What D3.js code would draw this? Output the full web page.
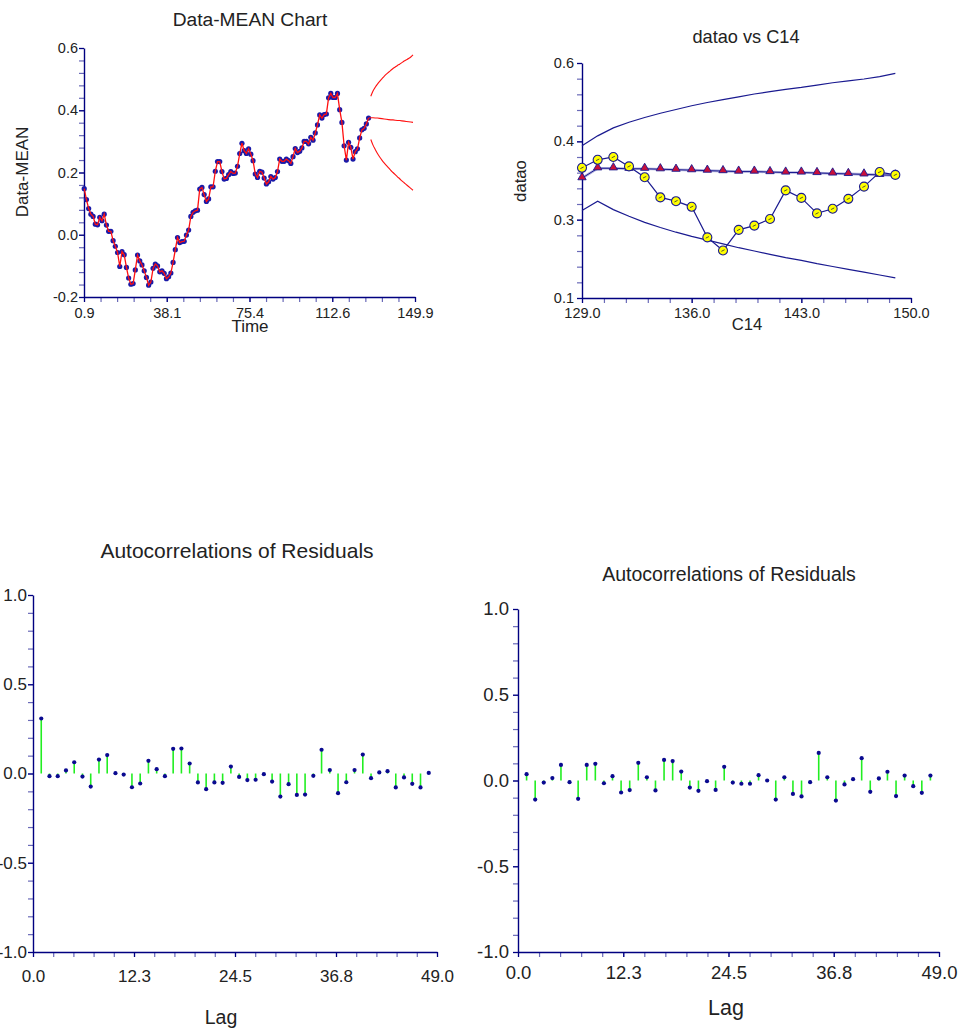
<!DOCTYPE html>
<html>
<head>
<meta charset="utf-8">
<script src="https://cdn.jsdelivr.net/npm/d3@7"></script>
<style>
  body { margin: 0; background: #fff; }
  text { font-family: "Liberation Sans", Arial, sans-serif; fill: #222; }
</style>
</head>
<body>
<svg id="chart" width="960" height="1032"></svg>
<script>
// ---- data ----
// Data-MEAN series, time 1..129
var dataMean = [0.148,0.113,0.084,0.066,0.059,0.034,0.032,0.056,0.045,0.066,
  0.031,0.011,0.011,-0.019,-0.037,-0.057,-0.102,-0.054,-0.064,-0.105,
  -0.139,-0.159,-0.157,-0.113,-0.065,-0.084,-0.097,-0.116,-0.137,-0.162,
  -0.152,-0.108,-0.094,-0.100,-0.119,-0.116,-0.124,-0.141,-0.135,-0.123,
  -0.089,-0.048,-0.009,-0.025,-0.022,-0.021,-0.001,0.015,0.059,0.072,
  0.077,0.079,0.147,0.152,0.129,0.107,0.115,0.154,0.154,0.204,
  0.235,0.235,0.203,0.179,0.181,0.193,0.203,0.197,0.198,0.220,
  0.261,0.294,0.270,0.261,0.276,0.259,0.238,0.195,0.184,0.204,
  0.201,0.182,0.163,0.170,0.187,0.179,0.184,0.203,0.243,0.236,
  0.236,0.243,0.238,0.229,0.251,0.277,0.264,0.268,0.279,0.300,
  0.300,0.292,0.313,0.304,0.327,0.353,0.385,0.375,0.386,0.388,
  0.440,0.454,0.441,0.441,0.454,0.402,0.361,0.286,0.240,0.297,
  0.281,0.243,0.267,0.276,0.311,0.337,0.342,0.356,0.375]

// datao vs C14 (129..149)
var c14 = [129,130,131,132,133,134,135,136,137,138,139,140,141,142,143,144,145,146,147,148,149]
var datao = [0.377,0.394,0.400,0.380,0.357,0.314,0.306,0.294,0.229,0.201,0.245,
  0.254,0.268,0.329,0.313,0.280,0.290,0.311,0.337,0.368,0.362]
var forecast = [0.355,0.376,0.376,0.375,0.375,0.374,0.373,0.372,0.371,0.370,0.369,
  0.369,0.368,0.367,0.367,0.366,0.365,0.364,0.363,0.362,0.361]
var upper = [0.424,0.445,0.462,0.474,0.484,0.493,0.501,0.509,0.516,0.522,0.528,
  0.534,0.539,0.544,0.548,0.553,0.558,0.562,0.566,0.571,0.578]
var lower = [0.286,0.306,0.288,0.274,0.261,0.250,0.240,0.231,0.223,0.215,0.207,
  0.200,0.193,0.186,0.180,0.173,0.167,0.161,0.155,0.149,0.143]

// autocorrelations, lags 1..48
var acfLeft = [0.308,-0.015,-0.015,0.017,0.063,-0.017,-0.073,0.078,0.103,0.002,
  -0.006,-0.077,-0.056,0.071,0.024,-0.015,0.138,0.140,0.056,-0.050,
  -0.088,-0.050,-0.052,0.039,-0.019,-0.037,-0.035,-0.004,-0.045,-0.129,
  -0.060,-0.120,-0.118,-0.013,0.133,0.019,-0.110,-0.049,0.019,0.106,
  -0.026,0.006,0.013,-0.078,-0.022,-0.058,-0.078,0.003]
var acfRight = [0.037,-0.111,-0.012,0.014,0.091,-0.010,-0.107,0.091,0.097,-0.016,
  0.025,-0.070,-0.056,0.103,0.019,-0.058,0.120,0.113,0.052,-0.041,
  -0.060,-0.004,-0.055,0.080,-0.012,-0.019,-0.019,0.031,0.000,-0.111,
  0.019,-0.078,-0.093,-0.010,0.161,0.019,-0.117,-0.023,0.008,0.130,
  -0.066,0.012,0.051,-0.091,0.029,-0.033,-0.072,0.029]

// tick labels
var meanXTicks = [0.9, 38.15, 75.4, 112.65, 149.9]
var meanXLabels = ["0.9","38.1","75.4","112.6","149.9"]
var meanYTicks = [-0.2, 0, 0.2, 0.4, 0.6]
var meanYLabels = ["-0.2","0.0","0.2","0.4","0.6"]
var c14XTicks = [129, 136, 143, 150]
var c14XLabels = ["129.0","136.0","143.0","150.0"]
var c14YTicks = [0.1, 0.26667, 0.43333, 0.6]
var c14YLabels = ["0.1","0.3","0.4","0.6"]
var lagXTicks = [0, 12.25, 24.5, 36.75, 49]
var lagXLabels = ["0.0","12.3","24.5","36.8","49.0"]
var lagYTicks = [-1, -0.5, 0, 0.5, 1]
var lagYLabels = ["-1.0","-0.5","0.0","0.5","1.0"]

var navy = "#000080", minorCol = "#6a6ab8"
var svg = d3.select("#chart")

// draws both axes with major labelled ticks and lighter minor ticks
function drawAxes(g, x, y, o){
    var y0 = y.range()[0], x0 = x.range()[0]
    var xd = x.domain(), yd = y.domain()
    var xMinor = d3.range(o.xMinorN + 1).map(i => xd[0] + i * (xd[1] - xd[0]) / o.xMinorN)
    var yMinor = d3.range(o.yMinorN + 1).map(i => yd[0] + i * (yd[1] - yd[0]) / o.yMinorN)

    g.append("g").attr("transform", "translate(0," + y0 + ")")
        .call(d3.axisBottom(x).tickValues(xMinor).tickSize(5).tickFormat(""))
        .call(s => s.select(".domain").remove())
        .selectAll("line").attr("stroke", minorCol).attr("stroke-width", 1.2)
    g.append("g").attr("transform", "translate(" + x0 + ",0)")
        .call(d3.axisLeft(y).tickValues(yMinor).tickSize(5).tickFormat(""))
        .call(s => s.select(".domain").remove())
        .selectAll("line").attr("stroke", minorCol).attr("stroke-width", 1.2)

    var xa = g.append("g").attr("transform", "translate(0," + y0 + ")")
        .call(d3.axisBottom(x).tickValues(o.xTicks).tickSizeInner(5).tickSizeOuter(0)
            .tickPadding(o.xPad).tickFormat((d, i) => o.xLabels[i]))
    var ya = g.append("g").attr("transform", "translate(" + x0 + ",0)")
        .call(d3.axisLeft(y).tickValues(o.yTicks).tickSizeInner(5).tickSizeOuter(0)
            .tickPadding(o.yPad).tickFormat((d, i) => o.yLabels[i]))
    ;[xa, ya].forEach(function(a){
        a.select(".domain").attr("stroke", navy).attr("stroke-width", 1.4)
        a.selectAll("line").attr("stroke", navy).attr("stroke-width", 1.2)
        a.selectAll("text").style("font-size", o.fs + "px").attr("fill", "#222")
            .style("font-family", "Liberation Sans, Arial, sans-serif")
    })
}

function label(txt, x, y, fs, rot){
    var t = svg.append("text").text(txt).attr("text-anchor", "middle")
        .style("font-size", fs + "px")
    if (rot) t.attr("transform", "translate(" + x + "," + y + ") rotate(-90)")
    else t.attr("x", x).attr("y", y)
    return t
}

// ---------- chart 1: Data-MEAN ----------
var x1 = d3.scaleLinear().domain([0.9, 149.9]).range([84, 415])
var y1 = d3.scaleLinear().domain([-0.2, 0.6]).range([297, 48])
var g1 = svg.append("g")
drawAxes(g1, x1, y1, {xTicks: meanXTicks, xLabels: meanXLabels, yTicks: meanYTicks,
    yLabels: meanYLabels, xMinorN: 20, yMinorN: 20, xPad: 5.5, yPad: 1, fs: 14.5})

var meanPts = dataMean.map((v, i) => ({t: i + 1, v: v}))
var fcPts = c14.map((t, i) => ({t: t, v: forecast[i], u: upper[i], l: lower[i]}))
var line1 = d3.line().x(d => x1(d.t)).y(d => y1(d.v))

g1.selectAll(".dot").data(meanPts).enter().append("circle")
    .attr("cx", d => x1(d.t)).attr("cy", d => y1(d.v)).attr("r", 2.6)
    .attr("fill", "#1a1aa8")
g1.append("path").datum(meanPts).attr("d", line1)
    .attr("fill", "none").attr("stroke", "#ff1010").attr("stroke-width", 1.3)

// forecast from the last observation
var fcCenter = [meanPts[meanPts.length - 1]].concat(fcPts.slice(1))
g1.append("path").datum(fcCenter).attr("d", line1)
    .attr("fill", "none").attr("stroke", "#ff1010").attr("stroke-width", 1.1)
g1.append("path").datum(fcPts.slice(1))
    .attr("d", d3.line().curve(d3.curveMonotoneX).x(d => x1(d.t)).y(d => y1(d.u)))
    .attr("fill", "none").attr("stroke", "#ff1010").attr("stroke-width", 1.1)
g1.append("path").datum(fcPts.slice(1))
    .attr("d", d3.line().curve(d3.curveMonotoneX).x(d => x1(d.t)).y(d => y1(d.l)))
    .attr("fill", "none").attr("stroke", "#ff1010").attr("stroke-width", 1.1)

label("Data-MEAN Chart", 250, 26, 19.2)
label("Time", 250, 332, 17)
label("Data-MEAN", 28, 172, 17, true)

// ---------- chart 2: datao vs C14 ----------
var x2 = d3.scaleLinear().domain([129, 150]).range([582, 911])
var y2 = d3.scaleLinear().domain([0.1, 0.6]).range([298, 63])
var g2 = svg.append("g")
drawAxes(g2, x2, y2, {xTicks: c14XTicks, xLabels: c14XLabels, yTicks: c14YTicks,
    yLabels: c14YLabels, xMinorN: 15, yMinorN: 15, xPad: 4.5, yPad: 3, fs: 14.5})

g2.append("path").datum(fcPts).attr("d", d3.line().x(d => x2(d.t)).y(d => y2(d.u)))
    .attr("fill", "none").attr("stroke", "#1a1a90").attr("stroke-width", 1.2)
g2.append("path").datum(fcPts).attr("d", d3.line().x(d => x2(d.t)).y(d => y2(d.l)))
    .attr("fill", "none").attr("stroke", "#1a1a90").attr("stroke-width", 1.2)

var fcLine = d3.line().x(d => x2(d.t)).y(d => y2(d.v))
g2.append("path").datum(fcPts).attr("d", fcLine)
    .attr("fill", "none").attr("stroke", "#b0b0dc").attr("stroke-width", 2.6)
g2.append("path").datum(fcPts).attr("d", fcLine)
    .attr("fill", "none").attr("stroke", "#1a1a90").attr("stroke-width", 1)

var obsPts = c14.map((t, i) => ({t: t, v: datao[i]}))
g2.append("path").datum(obsPts).attr("d", d3.line().x(d => x2(d.t)).y(d => y2(d.v)))
    .attr("fill", "none").attr("stroke", "#1a1a90").attr("stroke-width", 1.2)

g2.selectAll(".tri").data(fcPts).enter().append("path")
    .attr("d", d3.symbol().type(d3.symbolTriangle).size(30))
    .attr("transform", d => "translate(" + x2(d.t) + "," + (y2(d.v) - 0.8) + ")")
    .attr("fill", "#c8103a").attr("stroke", "#1a1a90").attr("stroke-width", 0.9)

var obs = g2.selectAll(".obs").data(obsPts).enter().append("g")
    .attr("transform", d => "translate(" + x2(d.t) + "," + y2(d.v) + ")")
obs.append("circle").attr("r", 4.5).attr("fill", "#ffff00")
    .attr("stroke", "#1a1a90").attr("stroke-width", 1.1)
obs.append("line").attr("x1", -1.6).attr("y1", 0.8).attr("x2", 1.6).attr("y2", -0.8)
    .attr("stroke", "#555530").attr("stroke-width", 1)

label("datao vs C14", 746, 42.5, 18.2)
label("C14", 747, 330, 16.7)
label("datao", 526, 181, 16.7, true)

// ---------- charts 3 & 4: autocorrelations ----------
function acfChart(vals, xr, yr, o){
    var x = d3.scaleLinear().domain([0, 49]).range(xr)
    var y = d3.scaleLinear().domain([-1, 1]).range(yr)
    var g = svg.append("g")
    drawAxes(g, x, y, {xTicks: lagXTicks, xLabels: lagXLabels, yTicks: lagYTicks,
        yLabels: lagYLabels, xMinorN: 20, yMinorN: 20, xPad: o.xPad, yPad: o.yPad, fs: o.fs})
    var pts = vals.map((v, i) => ({lag: i + 1, v: v}))
    g.selectAll(".stem").data(pts).enter().append("line")
        .attr("x1", d => x(d.lag)).attr("x2", d => x(d.lag))
        .attr("y1", y(0)).attr("y2", d => y(d.v))
        .attr("stroke", "#22ee22").attr("stroke-width", 1.6)
    g.selectAll(".pt").data(pts).enter().append("circle")
        .attr("cx", d => x(d.lag)).attr("cy", d => y(d.v)).attr("r", 2.1)
        .attr("fill", "#0a0a90")
}

acfChart(acfLeft, [33, 437], [952, 595], {xPad: 12.5, yPad: 1, fs: 17})
label("Autocorrelations of Residuals", 237, 558, 21)
label("Lag", 221, 1024, 19.5)

acfChart(acfRight, [518, 939], [952, 609], {xPad: 9, yPad: 4, fs: 18.5})
label("Autocorrelations of Residuals", 729, 581, 19.5)
label("Lag", 726, 1015, 21.5)
</script>
</body>
</html>
